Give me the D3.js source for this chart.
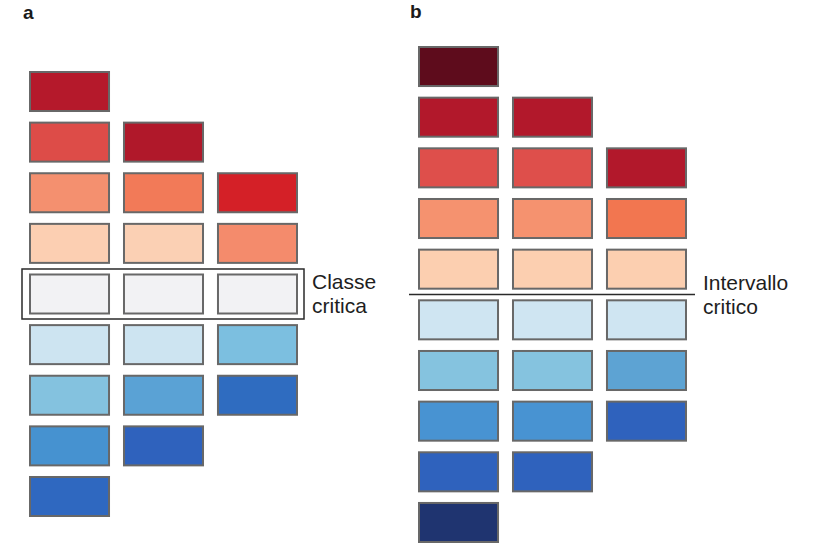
<!DOCTYPE html>
<html>
<head>
<meta charset="utf-8">
<script src="https://cdn.jsdelivr.net/npm/d3@7"></script>
<style>
  html, body { margin: 0; padding: 0; background: #fff; }
  svg { display: block; }
</style>
</head>
<body>
<svg id="chart" width="815" height="544"></svg>
<script>
// ---- Data ----
// Panel a: diverging schemes with an odd number of classes (critical class in the middle)
const panelALabel = "a";
const panelAColumns = [
  ["#b5192b", "#dd4c48", "#f4906f", "#fccfb2", "#f2f2f4", "#cde4f1", "#84c2df", "#4692d0", "#2f68c0"],
  ["#b0182a", "#f27a58", "#fbd0b4", "#f2f2f4", "#cde4f1", "#5aa2d5", "#2f62bd"],
  ["#d42027", "#f48b6c", "#f2f2f4", "#7cbfe0", "#2f6cc0"]
];
const panelARowOffsets = [0, 1, 2];
const panelACriticalRow = 4;
const panelAText = ["Classe", "critica"];

// Panel b: diverging schemes with an even number of classes (critical break in the middle)
const panelBLabel = "b";
const panelBColumns = [
  ["#5e0c1c", "#b2182b", "#de4f4b", "#f5926f", "#fccfb0", "#cfe5f2", "#85c3df", "#4893d2", "#2f62bd", "#1f3470"],
  ["#b2182b", "#de4f4b", "#f5926f", "#fccfb0", "#cfe5f2", "#85c3df", "#4893d2", "#2f62bd"],
  ["#b2182b", "#f27650", "#fccfb0", "#cfe5f2", "#5da3d3", "#2f62bd"]
];
const panelBRowOffsets = [0, 1, 2];
const panelBCriticalBreak = 5; // break between row 4 and row 5
const panelBText = ["Intervallo", "critico"];

// ---- Drawing ----
const svg = d3.select("#chart");
const font = "'Liberation Sans', Arial, Helvetica, sans-serif";

function drawPanel(cfg) {
  const nRows = d3.max(cfg.columns, (c, i) => c.length + cfg.offsets[i]);
  const x = d3.scaleBand().domain(d3.range(cfg.columns.length))
    .range(cfg.xRange).paddingInner(0.138).paddingOuter(0);
  const y = d3.scaleBand().domain(d3.range(nRows))
    .range(cfg.yRange).paddingInner(0.19).paddingOuter(0);

  const g = svg.append("g");

  const cells = [];
  cfg.columns.forEach((col, ci) => {
    col.forEach((color, ri) => cells.push({ col: ci, row: ri + cfg.offsets[ci], color }));
  });

  g.selectAll("rect.swatch").data(cells).enter().append("rect")
    .attr("class", "swatch")
    .attr("x", d => x(d.col) + 1)
    .attr("y", d => y(d.row) + 1)
    .attr("width", x.bandwidth() - 2)
    .attr("height", y.bandwidth() - 2)
    .attr("fill", d => d.color)
    .attr("stroke", "#686868")
    .attr("stroke-width", 2);

  g.append("text")
    .attr("x", cfg.labelPos[0]).attr("y", cfg.labelPos[1])
    .attr("font-family", font).attr("font-weight", "bold")
    .attr("font-size", 19).attr("fill", "#1a1a1a")
    .text(cfg.label);

  return { g, x, y };
}

// Panel a
const a = drawPanel({
  columns: panelAColumns, offsets: panelARowOffsets,
  xRange: [29, 298], yRange: [71, 517],
  label: panelALabel, labelPos: [23, 19]
});
{
  const r = panelACriticalRow;
  const x0 = a.x(0) - 7, x1 = a.x(panelAColumns.length - 1) + a.x.bandwidth() + 6;
  const y0 = a.y(r) - 4.5, y1 = a.y(r) + a.y.bandwidth() + 4.5;
  a.g.append("rect")
    .attr("x", x0).attr("y", y0).attr("width", x1 - x0).attr("height", y1 - y0)
    .attr("fill", "none").attr("stroke", "#2a2a2a").attr("stroke-width", 1.5);
  a.g.append("text")
    .attr("x", x1 + 8).attr("y", y0 + 20)
    .attr("font-family", font).attr("font-size", 21).attr("fill", "#1e1e1e")
    .selectAll("tspan").data(panelAText).enter().append("tspan")
    .attr("x", x1 + 8).attr("dy", (d, i) => i === 0 ? 0 : 24)
    .text(d => d);
}

// Panel b
const b = drawPanel({
  columns: panelBColumns, offsets: panelBRowOffsets,
  xRange: [418, 687], yRange: [46, 543],
  label: panelBLabel, labelPos: [410, 18]
});
{
  const k = panelBCriticalBreak;
  const yb = (b.y(k - 1) + b.y.bandwidth() + b.y(k)) / 2;
  const x0 = b.x(0) - 9, x1 = b.x(panelBColumns.length - 1) + b.x.bandwidth() + 8;
  b.g.append("line")
    .attr("x1", x0).attr("x2", x1).attr("y1", yb).attr("y2", yb)
    .attr("stroke", "#2a2a2a").attr("stroke-width", 1.5);
  b.g.append("text")
    .attr("x", x1 + 8).attr("y", yb - 5)
    .attr("font-family", font).attr("font-size", 21).attr("fill", "#1e1e1e")
    .selectAll("tspan").data(panelBText).enter().append("tspan")
    .attr("x", x1 + 8).attr("dy", (d, i) => i === 0 ? 0 : 24)
    .text(d => d);
}
</script>
</body>
</html>
